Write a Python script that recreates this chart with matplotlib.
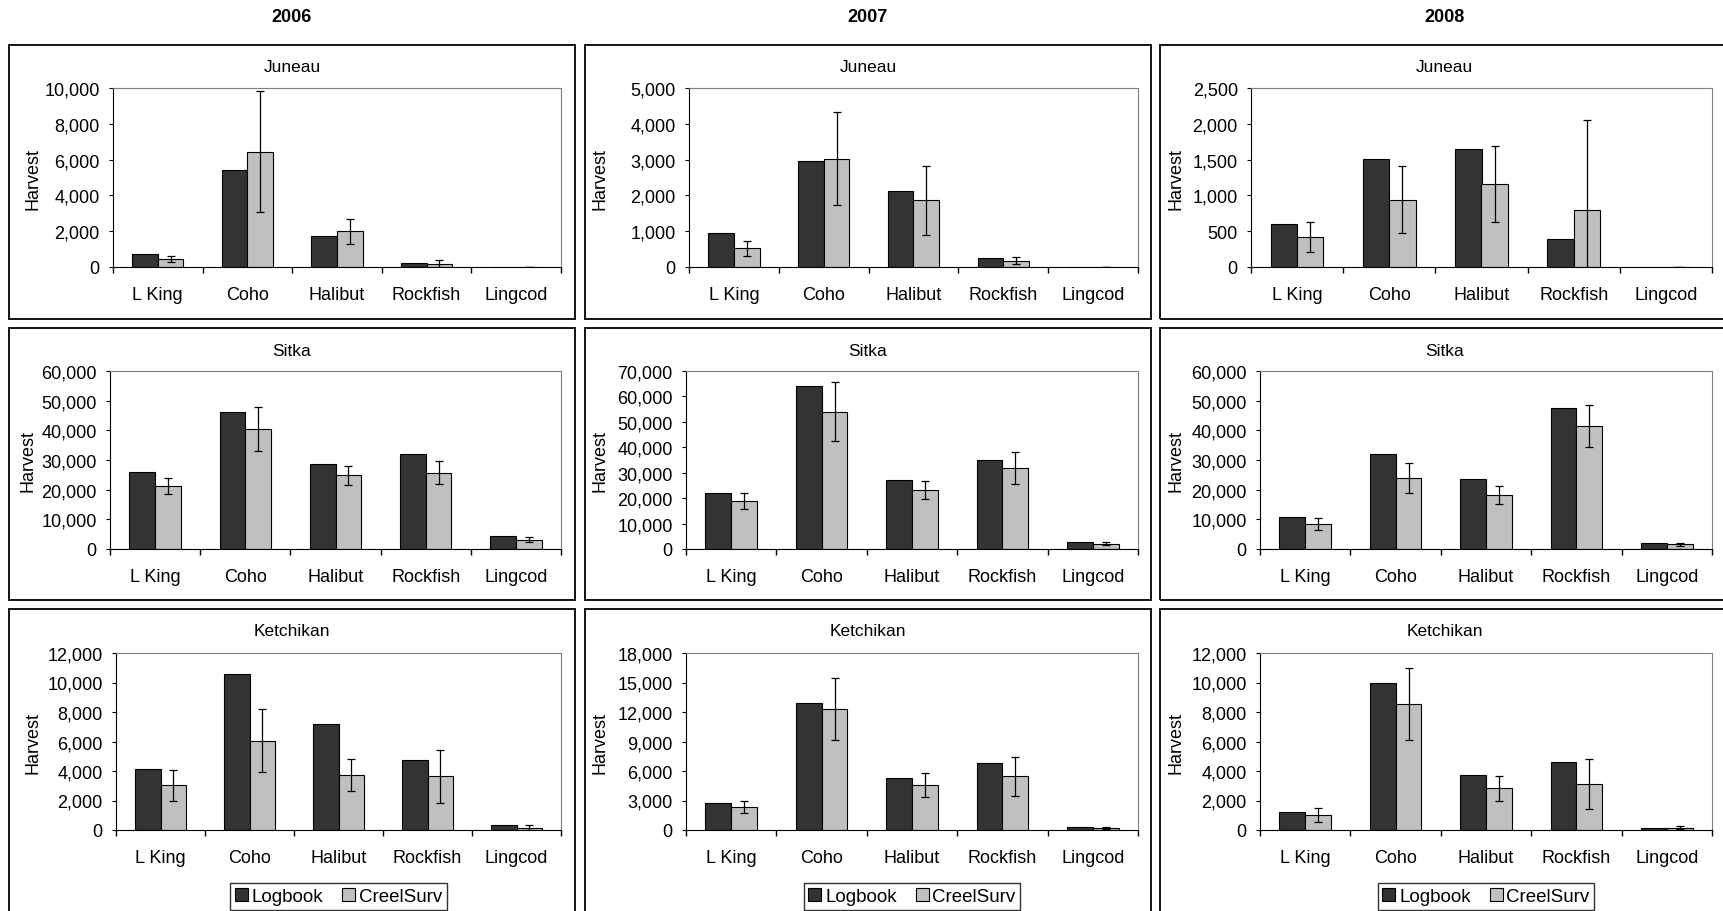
import numpy as np
import matplotlib
matplotlib.use("Agg")
import matplotlib.pyplot as plt
from matplotlib.patches import Rectangle, Patch
from matplotlib.ticker import FuncFormatter, FixedLocator

plt.rcParams['font.family'] = ['Liberation Sans', 'DejaVu Sans']

# Harvest by species, one row per year (2006, 2007, 2008)
years = ['2006', '2007', '2008']
regions = ['Juneau', 'Sitka', 'Ketchikan']
species = ['L King', 'Coho', 'Halibut', 'Rockfish', 'Lingcod']

juneau_logbook = [[725, 5430, 1730, 240, 5],
                  [940, 2960, 2125, 240, 10],
                  [602, 1509, 1644, 398, 5]]
juneau_creel = [[450, 6450, 2000, 186, 10],
                [520, 3030, 1865, 176, 2],
                [421, 940, 1153, 792, 3]]
juneau_err = [[185, 3360, 700, 180, 5],
              [220, 1290, 960, 95, 2],
              [213, 465, 530, 1264, 2]]

sitka_logbook = [[26050, 46240, 28530, 32140, 4290],
                 [21890, 64100, 27130, 35130, 2620],
                 [10780, 32000, 23440, 47670, 2000]]
sitka_creel = [[21090, 40490, 24810, 25710, 3160],
               [19010, 54000, 23200, 31850, 2100],
               [8330, 24000, 18330, 41440, 1670]]
sitka_err = [[2700, 7500, 3270, 3950, 950],
             [3150, 11700, 3700, 6100, 500],
             [2050, 5000, 3050, 7170, 500]]

ketchikan_logbook = [[4143, 10582, 7182, 4751, 338],
                     [2774, 12924, 5312, 6767, 305],
                     [1220, 9966, 3751, 4633, 136]]
ketchikan_creel = [[3017, 6057, 3738, 3647, 158],
                   [2368, 12316, 4568, 5447, 237],
                   [1017, 8542, 2825, 3119, 158]]
ketchikan_err = [[1080, 2140, 1080, 1800, 150],
                 [610, 3180, 1185, 1950, 100],
                 [450, 2450, 850, 1670, 110]]

# axis max and tick step per region / year
y_max = [[10000, 5000, 2500], [60000, 70000, 60000], [12000, 18000, 12000]]
y_step = [[2000, 1000, 500], [10000, 10000, 10000], [2000, 3000, 2000]]

logbook = [juneau_logbook, sitka_logbook, ketchikan_logbook]
creel = [juneau_creel, sitka_creel, ketchikan_creel]
errs = [juneau_err, sitka_err, ketchikan_err]

W, H = 1724, 912
fig = plt.figure(figsize=(W / 100, H / 100), dpi=100)

# layout in pixels
frame_x = [(9, 575), (585, 1151), (1160, 1729)]
frame_y = [(46, 320), (329, 601), (610, 940)]
ax_rows = [(89, 268), (372, 550), (654, 831)]
ax_lefts = [[113, 689, 1251],
            [110, 686, 1260],
            [116, 686, 1260]]
ax_rights = [561, 1138, 1712]
ylab_x = [[33, 600, 1176], [28, 600, 1176], [33, 600, 1176]]
title_y = [67, 351, 631]

dark = '#333333'
light = '#c0c0c0'
bw = 0.286
x = np.arange(len(species)) + 0.5

for j, yr in enumerate(years):
    cx = (frame_x[j][0] + frame_x[j][1]) / 2
    fig.text(cx / W, 1 - 18 / H, yr, ha='center', va='center',
             fontsize=13, fontweight='bold')

for i, reg in enumerate(regions):
    for j in range(3):
        fx0, fx1 = frame_x[j]
        fy0, fy1 = frame_y[i]
        fig.patches.append(Rectangle((fx0 / W, 1 - fy1 / H), (fx1 - fx0) / W,
                                     (fy1 - fy0) / H, transform=fig.transFigure,
                                     fill=False, edgecolor='black', lw=1.3))
        fig.text((fx0 + fx1) / 2 / W, 1 - title_y[i] / H, reg,
                 ha='center', va='center', fontsize=12.5)

        l, r = ax_lefts[i][j], ax_rights[j]
        t, b = ax_rows[i]
        ax = fig.add_axes([l / W, 1 - b / H, (r - l) / W, (b - t) / H])
        ax.bar(x - bw / 2, logbook[i][j], bw, color=dark, edgecolor='black', lw=0.8)
        ax.bar(x + bw / 2, creel[i][j], bw, color=light, edgecolor='black', lw=0.8,
               yerr=errs[i][j], error_kw=dict(ecolor='black', elinewidth=0.9,
                                              capsize=3, capthick=0.9))
        ax.set_xlim(0, 5)
        ax.set_ylim(0, y_max[i][j])
        ax.set_yticks(np.arange(0, y_max[i][j] + 1, y_step[i][j]))
        ax.yaxis.set_major_formatter(FuncFormatter(lambda v, p: f'{int(v):,}'))
        ax.set_xticks(x)
        ax.set_xticklabels(species)
        ax.xaxis.set_minor_locator(FixedLocator(np.arange(0, 6)))
        ax.tick_params(axis='x', which='major', length=0, pad=14, labelsize=13)
        ax.tick_params(axis='x', which='minor', length=4, direction='out', width=1)
        ax.tick_params(axis='y', length=3, direction='out', labelsize=13, pad=6.5)
        ax.spines['top'].set_color('#808080')
        ax.spines['right'].set_color('#808080')
        fig.text(ylab_x[i][j] / W, 1 - (t + b) / 2 / H, 'Harvest', rotation=90,
                 ha='center', va='center', fontsize=13)

        if i == 2:
            handles = [Patch(facecolor=dark, edgecolor='black', lw=0.8),
                       Patch(facecolor=light, edgecolor='black', lw=0.8)]
            ax.legend(handles, ['Logbook', 'CreelSurv'], ncol=2,
                      loc='center', bbox_to_anchor=(0.5, -0.375),
                      frameon=True, fancybox=False, edgecolor='black',
                      fontsize=13.5, handlelength=0.7, handleheight=0.7,
                      handletextpad=0.2, columnspacing=1.0, borderpad=0.25,
                      borderaxespad=0)

fig.savefig('out.png', dpi=100)
